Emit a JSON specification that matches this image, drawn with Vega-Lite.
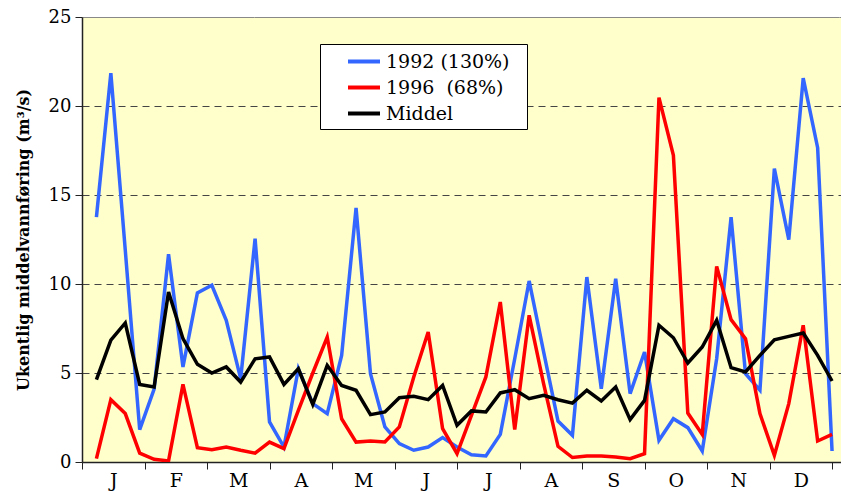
{
  "$schema": "https://vega.github.io/schema/vega-lite/v6.json",
  "width": 759,
  "height": 445,
  "autosize": "none",
  "padding": {"left": 82, "top": 17, "right": 0, "bottom": 29},
  "background": "white",
  "view": {"fill": "#FFFFCC", "stroke": null},
  "config": {
    "font": "DejaVu Serif",
    "axis": {"labelFont": "DejaVu Serif", "titleFont": "DejaVu Serif", "labelColor": "black", "titleColor": "black", "domainColor": "#222222", "tickColor": "#222222"},
    "legend": {"labelFont": "DejaVu Serif", "titleFont": "DejaVu Serif"}
  },
  "data": {
    "values": [
      {"week": 1, "series": "a", "value": 13.76}, {"week": 2, "series": "a", "value": 21.85}, {"week": 3, "series": "a", "value": 11.9}, {"week": 4, "series": "a", "value": 1.82},
      {"week": 5, "series": "a", "value": 4.1}, {"week": 6, "series": "a", "value": 11.67}, {"week": 7, "series": "a", "value": 5.34}, {"week": 8, "series": "a", "value": 9.5},
      {"week": 9, "series": "a", "value": 9.93}, {"week": 10, "series": "a", "value": 7.96}, {"week": 11, "series": "a", "value": 4.68}, {"week": 12, "series": "a", "value": 12.55},
      {"week": 13, "series": "a", "value": 2.25}, {"week": 14, "series": "a", "value": 0.84}, {"week": 15, "series": "a", "value": 5.24}, {"week": 16, "series": "a", "value": 3.28},
      {"week": 17, "series": "a", "value": 2.72}, {"week": 18, "series": "a", "value": 5.99}, {"week": 19, "series": "a", "value": 14.27}, {"week": 20, "series": "a", "value": 4.96},
      {"week": 21, "series": "a", "value": 1.97}, {"week": 22, "series": "a", "value": 1.03}, {"week": 23, "series": "a", "value": 0.66}, {"week": 24, "series": "a", "value": 0.84},
      {"week": 25, "series": "a", "value": 1.37}, {"week": 26, "series": "a", "value": 0.84}, {"week": 27, "series": "a", "value": 0.41}, {"week": 28, "series": "a", "value": 0.34},
      {"week": 29, "series": "a", "value": 1.55}, {"week": 30, "series": "a", "value": 5.8}, {"week": 31, "series": "a", "value": 10.17}, {"week": 32, "series": "a", "value": 6.2},
      {"week": 33, "series": "a", "value": 2.3}, {"week": 34, "series": "a", "value": 1.5}, {"week": 35, "series": "a", "value": 10.39}, {"week": 36, "series": "a", "value": 4.12},
      {"week": 37, "series": "a", "value": 10.3}, {"week": 38, "series": "a", "value": 3.84}, {"week": 39, "series": "a", "value": 6.18}, {"week": 40, "series": "a", "value": 1.22},
      {"week": 41, "series": "a", "value": 2.43}, {"week": 42, "series": "a", "value": 1.93}, {"week": 43, "series": "a", "value": 0.62}, {"week": 44, "series": "a", "value": 5.8},
      {"week": 45, "series": "a", "value": 13.76}, {"week": 46, "series": "a", "value": 4.96}, {"week": 47, "series": "a", "value": 4.03}, {"week": 48, "series": "a", "value": 16.48},
      {"week": 49, "series": "a", "value": 12.49}, {"week": 50, "series": "a", "value": 21.57}, {"week": 51, "series": "a", "value": 17.66}, {"week": 52, "series": "a", "value": 0.62},
      {"week": 1, "series": "b", "value": 0.19}, {"week": 2, "series": "b", "value": 3.5}, {"week": 3, "series": "b", "value": 2.72}, {"week": 4, "series": "b", "value": 0.5},
      {"week": 5, "series": "b", "value": 0.15}, {"week": 6, "series": "b", "value": 0.06}, {"week": 7, "series": "b", "value": 4.36}, {"week": 8, "series": "b", "value": 0.8},
      {"week": 9, "series": "b", "value": 0.69}, {"week": 10, "series": "b", "value": 0.84}, {"week": 11, "series": "b", "value": 0.66}, {"week": 12, "series": "b", "value": 0.5},
      {"week": 13, "series": "b", "value": 1.12}, {"week": 14, "series": "b", "value": 0.75}, {"week": 15, "series": "b", "value": 2.9}, {"week": 16, "series": "b", "value": 5.0},
      {"week": 17, "series": "b", "value": 7.02}, {"week": 18, "series": "b", "value": 2.43}, {"week": 19, "series": "b", "value": 1.12}, {"week": 20, "series": "b", "value": 1.18},
      {"week": 21, "series": "b", "value": 1.12}, {"week": 22, "series": "b", "value": 1.97}, {"week": 23, "series": "b", "value": 4.78}, {"week": 24, "series": "b", "value": 7.3},
      {"week": 25, "series": "b", "value": 1.87}, {"week": 26, "series": "b", "value": 0.47}, {"week": 27, "series": "b", "value": 2.62}, {"week": 28, "series": "b", "value": 4.78},
      {"week": 29, "series": "b", "value": 8.99}, {"week": 30, "series": "b", "value": 1.82}, {"week": 31, "series": "b", "value": 8.24}, {"week": 32, "series": "b", "value": 4.4},
      {"week": 33, "series": "b", "value": 0.88}, {"week": 34, "series": "b", "value": 0.25}, {"week": 35, "series": "b", "value": 0.34}, {"week": 36, "series": "b", "value": 0.34},
      {"week": 37, "series": "b", "value": 0.28}, {"week": 38, "series": "b", "value": 0.19}, {"week": 39, "series": "b", "value": 0.47}, {"week": 40, "series": "b", "value": 20.47},
      {"week": 41, "series": "b", "value": 17.23}, {"week": 42, "series": "b", "value": 2.75}, {"week": 43, "series": "b", "value": 1.55}, {"week": 44, "series": "b", "value": 10.99},
      {"week": 45, "series": "b", "value": 8.0}, {"week": 46, "series": "b", "value": 6.93}, {"week": 47, "series": "b", "value": 2.72}, {"week": 48, "series": "b", "value": 0.37},
      {"week": 49, "series": "b", "value": 3.28}, {"week": 50, "series": "b", "value": 7.68}, {"week": 51, "series": "b", "value": 1.18}, {"week": 52, "series": "b", "value": 1.55},
      {"week": 1, "series": "c", "value": 4.63}, {"week": 2, "series": "c", "value": 6.84}, {"week": 3, "series": "c", "value": 7.81}, {"week": 4, "series": "c", "value": 4.36},
      {"week": 5, "series": "c", "value": 4.21}, {"week": 6, "series": "c", "value": 9.55}, {"week": 7, "series": "c", "value": 6.93}, {"week": 8, "series": "c", "value": 5.49},
      {"week": 9, "series": "c", "value": 5.0}, {"week": 10, "series": "c", "value": 5.34}, {"week": 11, "series": "c", "value": 4.49}, {"week": 12, "series": "c", "value": 5.8},
      {"week": 13, "series": "c", "value": 5.9}, {"week": 14, "series": "c", "value": 4.36}, {"week": 15, "series": "c", "value": 5.24}, {"week": 16, "series": "c", "value": 3.24},
      {"week": 17, "series": "c", "value": 5.43}, {"week": 18, "series": "c", "value": 4.3}, {"week": 19, "series": "c", "value": 4.03}, {"week": 20, "series": "c", "value": 2.66},
      {"week": 21, "series": "c", "value": 2.81}, {"week": 22, "series": "c", "value": 3.61}, {"week": 23, "series": "c", "value": 3.69}, {"week": 24, "series": "c", "value": 3.5},
      {"week": 25, "series": "c", "value": 4.3}, {"week": 26, "series": "c", "value": 2.06}, {"week": 27, "series": "c", "value": 2.87}, {"week": 28, "series": "c", "value": 2.81},
      {"week": 29, "series": "c", "value": 3.88}, {"week": 30, "series": "c", "value": 4.06}, {"week": 31, "series": "c", "value": 3.56}, {"week": 32, "series": "c", "value": 3.75},
      {"week": 33, "series": "c", "value": 3.5}, {"week": 34, "series": "c", "value": 3.31}, {"week": 35, "series": "c", "value": 4.03}, {"week": 36, "series": "c", "value": 3.43},
      {"week": 37, "series": "c", "value": 4.21}, {"week": 38, "series": "c", "value": 2.38}, {"week": 39, "series": "c", "value": 3.46}, {"week": 40, "series": "c", "value": 7.68},
      {"week": 41, "series": "c", "value": 6.98}, {"week": 42, "series": "c", "value": 5.56}, {"week": 43, "series": "c", "value": 6.46}, {"week": 44, "series": "c", "value": 7.96},
      {"week": 45, "series": "c", "value": 5.3}, {"week": 46, "series": "c", "value": 5.06}, {"week": 47, "series": "c", "value": 5.99}, {"week": 48, "series": "c", "value": 6.87},
      {"week": 49, "series": "c", "value": 7.06}, {"week": 50, "series": "c", "value": 7.25}, {"week": 51, "series": "c", "value": 5.99}, {"week": 52, "series": "c", "value": 4.55}
    ]
  },
  "mark": {"type": "line", "strokeWidth": 3.5, "clip": true},
  "encoding": {
    "x": {
      "field": "week", "type": "quantitative",
      "scale": {"domain": [0, 52.62], "nice": false, "zero": false},
      "axis": {
        "title": null,
        "grid": false,
        "values": [0, 2.16667, 4.33333, 6.5, 8.66667, 10.83333, 13, 15.16667, 17.33333, 19.5, 21.66667, 23.83333, 26, 28.16667, 30.33333, 32.5, 34.66667, 36.83333, 39, 41.16667, 43.33333, 45.5, 47.66667, 49.83333, 52],
        "labelExpr": "abs(datum.value*12/52 - floor(datum.value*12/52) - 0.5) < 0.02 ? ['J','F','M','A','M','J','J','A','S','O','N','D'][floor(datum.value*12/52)] : ''",
        "tickOpacity": {"condition": {"test": "abs(datum.value*12/52 - floor(datum.value*12/52) - 0.5) < 0.02", "value": 0}, "value": 1},
        "labelOverlap": false,
        "labelFontSize": 19,
        "tickSize": 7,
        "labelPadding": 2,
        "domainWidth": 1.5
      }
    },
    "y": {
      "field": "value", "type": "quantitative",
      "scale": {"domain": [0, 25], "nice": false},
      "axis": {
        "title": "Ukentlig middelvannføring (m³/s)",
        "titleFontWeight": "bold",
        "titleFontSize": 16,
        "titlePadding": 17,
        "values": [0, 5, 10, 15, 20, 25],
        "labelFontSize": 18,
        "tickSize": 7,
        "labelPadding": 4,
        "domainWidth": 1.5,
        "grid": true,
        "gridDash": {"condition": {"test": "datum.value === 25", "value": [1, 0]}, "value": [7, 5]},
        "gridColor": {"condition": {"test": "datum.value === 25", "value": "#888888"}, "value": "#444444"},
        "gridOpacity": {"condition": {"test": "datum.value === 0", "value": 0}, "value": 1},
        "gridWidth": 1.2
      }
    },
    "color": {
      "field": "series", "type": "nominal",
      "scale": {"domain": ["a", "b", "c"], "range": ["#3366FF", "#FF0000", "#000000"]},
      "legend": {
        "title": "\u00a0",
        "titleOrient": "right",
        "titlePadding": 12,
        "titleFontSize": 18,
        "orient": "none",
        "legendX": 238,
        "legendY": 27,
        "labelExpr": "datum.value === 'a' ? '1992 (130%)' : datum.value === 'b' ? '1996 \u00a0(68%)' : 'Middel'",
        "fillColor": "white",
        "strokeColor": "black",
        "padding": 5.5,
        "symbolType": "M-1.6,0H1.6",
        "symbolSize": 400,
        "symbolStrokeWidth": 4,
        "symbolOffset": 26.5,
        "labelOffset": 10,
        "labelFontSize": 19,
        "labelColor": "black",
        "rowPadding": 4
      }
    }
  }
}
